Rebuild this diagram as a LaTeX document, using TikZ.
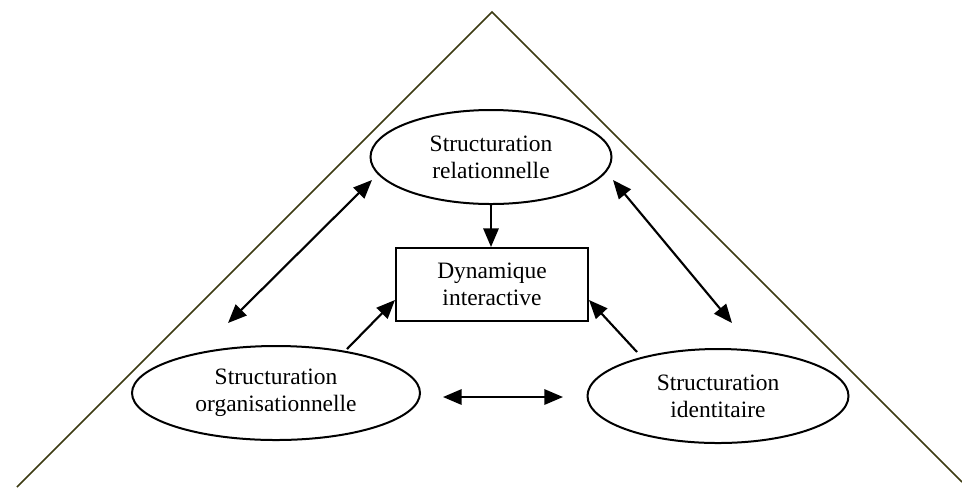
\documentclass[tikz,border=0pt]{standalone}
\usepackage{fontspec}
\setmainfont{Liberation Serif}
\usetikzlibrary{shapes.geometric,arrows.meta}
\definecolor{olive}{HTML}{3C3A12}
\begin{document}
\begin{tikzpicture}[x=0.75pt,y=-0.75pt,
  lbl/.style={font=\fontsize{17.6}{20.2}\selectfont,align=center,inner sep=0pt},
  ell/.style={ellipse,draw,line width=1.5pt,lbl},
  boxnode/.style={rectangle,draw,line width=1.5pt,lbl},
  tip/.tip={Triangle[length=14pt,width=11.5pt]},
  arr/.style={line width=1.6pt,-tip},
  darr/.style={line width=1.6pt,tip-tip},
  tri/.style={draw=olive,line width=1.1pt}]
\useasboundingbox (0,0) rectangle (962,487);
% triangle
\coordinate (apex) at (492,12);
\coordinate (bl) at (17,487);
\coordinate (br) at (962,482);
\draw[tri] (bl) -- (apex) -- (br);
% nodes
\node[ell,minimum width=180.75pt,minimum height=70.5pt] (rel) at (491,157) {Structuration\\relationnelle};
\node[boxnode,minimum width=144pt,minimum height=54.75pt] (dyn) at (492,284.5) {Dynamique\\interactive};
\node[ell,minimum width=216pt,minimum height=70.5pt] (org) at (276,393) {Structuration\\organisationnelle};
\node[ell,minimum width=195.75pt,minimum height=70.5pt] (ide) at (718,396) {Structuration\\identitaire};
% connector endpoints
\coordinate (l1) at (372,180);
\coordinate (l2) at (228,323);
\coordinate (r1) at (613,180);
\coordinate (r2) at (732,323);
\coordinate (h1) at (443,397);
\coordinate (h2) at (563,397);
\coordinate (os) at (347,349);
\coordinate (is) at (637,352);
% connectors
\draw[arr] (rel.south) -- (rel.south |- dyn.north);
\draw[darr] (l2) -- (l1);
\draw[darr] (r1) -- (r2);
\draw[darr] (h1) -- (h2);
\draw[arr] (os) -- (dyn.south west |- 0,300);
\draw[arr] (is) -- (dyn.south east |- 0,300);
\end{tikzpicture}
\end{document}
